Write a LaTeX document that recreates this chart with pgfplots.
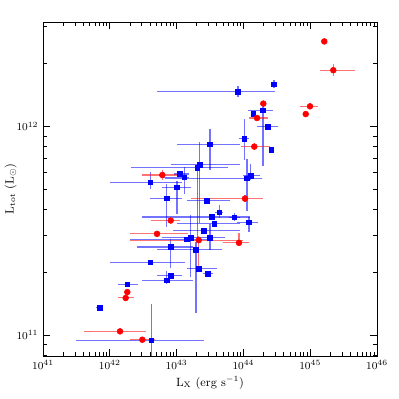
\documentclass[border=0pt]{standalone}
\usepackage{pgfplots}
\usepackage{pgfplotstable}
\pgfplotsset{compat=1.18}

% log10 values; errors are in dex
\pgfplotstableread{
x y exm exp eym eyp
44.458 12.201 0 0 0.019 0.019
43.919 12.167 1.208 0.554 0.024 0.024
44.293 12.077 0.220 0.155 0.267 0.015
44.148 12.061 0 0 0 0
44.368 11.999 0.169 0.145 0 0
44.013 11.941 0.074 0.071 0.104 0.096
44.418 11.887 0 0 0 0
43.500 11.915 0.489 0.449 0.126 0.072
43.346 11.817 0.434 0.603 0.281 0.106
43.310 11.802 0.997 0.455 0.356 0.020
43.051 11.772 0.085 0.140 0 0
43.115 11.756 0.315 0.075 0.078 0.049
44.054 11.751 1.228 0.220 0.155 0.095
44.109 11.764 0.110 0.140 0.022 0.057
42.606 11.732 0.603 0.479 0.030 0.050
43.006 11.708 0.220 0.205 0.126 0.030
42.852 11.656 0.246 0.233 0.138 0.070
43.455 11.643 0.299 0.349 0 0
43.639 11.589 0.060 0.060 0.029 0.033
43.525 11.566 1.038 0.574 0 0
43.864 11.565 0.080 0.085 0.020 0.020
44.084 11.541 0.184 0.139 0.047 0.025
43.564 11.533 0.553 0.385 0 0
43.410 11.501 0.459 0.539 0 0
43.211 11.467 0.425 0.514 0.188 0.107
43.151 11.459 0.849 0.400 0 0
43.500 11.466 0 0 0.059 0.068
42.912 11.422 0.500 0.330 0.100 0.038
43.290 11.410 0.588 0.385 0.305 0.036
42.606 11.348 0.603 0.515 0 0
43.331 11.319 0.175 0.270 0 0
43.470 11.293 0.070 0.070 0 0
42.912 11.284 0.200 0.173 0 0
42.852 11.263 0.365 0.389 0.020 0.043
42.262 11.244 0.140 0.156 0 0
41.849 11.131 0.050 0.050 0 0
42.621 10.975 1.131 0.789 0.300 0.172
}\bluedata

\pgfplotstableread{
x y exm exp eym eyp
45.211 12.407 0 0 0 0
45.346 12.269 0.195 0.320 0.026 0.028
44.997 12.096 0.145 0.115 0 0
44.933 12.059 0 0 0 0
44.298 12.109 0 0 0 0
44.204 12.040 0.116 0.164 0 0
44.163 11.903 0.199 0.235 0.018 0.017
42.786 11.767 0.299 0.290 0.023 0.023
44.024 11.654 0.808 0.265 0.015 0.015
42.912 11.549 0.300 0.139 0 0
42.707 11.485 0.405 0.464 0 0
43.331 11.455 1.029 0.668 0.136 0.020
43.934 11.442 0.235 0.150 0.011 0.045
42.262 11.206 0 0 0 0
42.238 11.178 0.115 0.120 0 0
42.153 11.018 0.544 0.384 0 0
42.487 10.978 0.185 0.190 0 0
}\reddata

\begin{document}
\begin{tikzpicture}
\path[use as bounding box] (-32.25pt,-32.25pt) rectangle (267pt,267pt);
\begin{axis}[
    scale only axis,
    width=250.5pt, height=250.5pt,
    xmin=41, xmax=46, ymin=10.9, ymax=12.5,
    xtick={41,42,43,44,45,46},
    xticklabels={$10^{41}$,$10^{42}$,$10^{43}$,$10^{44}$,$10^{45}$,$10^{46}$},
    ytick={11,12},
    yticklabels={$10^{11}$,$10^{12}$},
    minor xtick={41.301,41.477,41.602,41.699,41.778,41.845,41.903,41.954,
                 42.301,42.477,42.602,42.699,42.778,42.845,42.903,42.954,
                 43.301,43.477,43.602,43.699,43.778,43.845,43.903,43.954,
                 44.301,44.477,44.602,44.699,44.778,44.845,44.903,44.954,
                 45.301,45.477,45.602,45.699,45.778,45.845,45.903,45.954},
    minor ytick={10.903,10.954,11.301,11.477,11.602,11.699,11.778,11.845,11.903,11.954,12.301,12.477},
    major tick length=5pt, minor tick length=2.8pt,
    tick style={black, line width=0.5pt},
    axis line style={line width=0.6pt},
    tick label style={font=\footnotesize},
    label style={font=\small},
    xlabel={L$_{\rm X}$ (erg s$^{-1}$)},
    ylabel={L$_{\rm tot}$ (L$_\odot$)},
    xlabel style={yshift=2pt},
    ylabel style={yshift=-7pt},
]
\addplot[only marks, mark=square*, color=blue, mark size=1.7pt,
    error bars/.cd, x dir=both, x explicit, y dir=both, y explicit,
    error mark=none, error bar style={line width=0.8pt, blue, opacity=0.55}]
    table[x=x, y=y, x error minus=exm, x error plus=exp, y error minus=eym, y error plus=eyp] {\bluedata};
\addplot[only marks, mark=*, color=red, mark size=2.2pt,
    error bars/.cd, x dir=both, x explicit, y dir=both, y explicit,
    error mark=none, error bar style={line width=0.8pt, red, opacity=0.55}]
    table[x=x, y=y, x error minus=exm, x error plus=exp, y error minus=eym, y error plus=eyp] {\reddata};
\end{axis}
\end{tikzpicture}
\end{document}
